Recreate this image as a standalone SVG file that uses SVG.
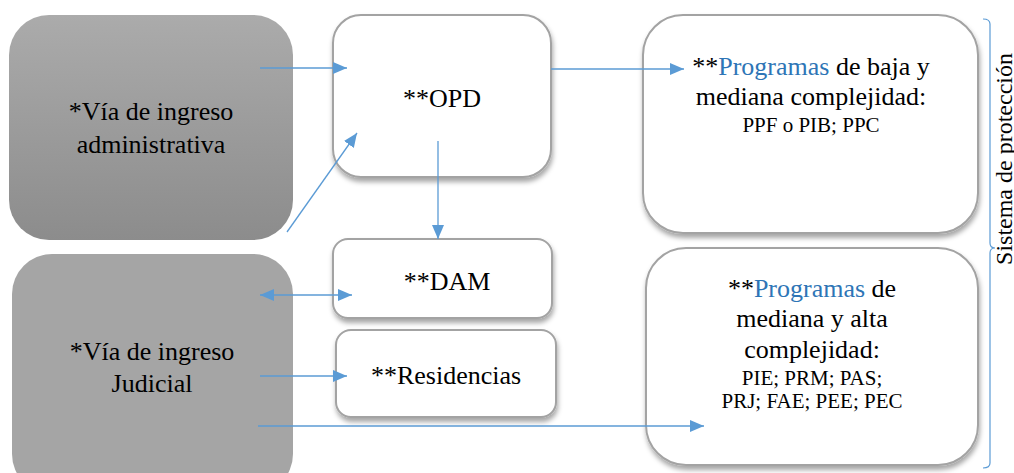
<svg xmlns="http://www.w3.org/2000/svg" width="1014" height="473" viewBox="0 0 1014 473">
<defs>
<linearGradient id="g1" x1="0" y1="0" x2="0" y2="1">
<stop offset="0" stop-color="#ababab"/>
<stop offset="1" stop-color="#8c8c8c"/>
</linearGradient>
<filter id="sh" x="-10%" y="-10%" width="125%" height="130%">
<feDropShadow dx="1" dy="4" stdDeviation="2.5" flood-color="#000" flood-opacity="0.35"/>
</filter>
<marker id="ah" markerWidth="14" markerHeight="12" refX="14" refY="6" orient="auto-start-reverse" markerUnits="userSpaceOnUse">
<path d="M0,0 L14,6 L0,12 Z" fill="#5b9bd5"/>
</marker>
<style>
.wbox{fill:#fff;stroke:#a3a3a3;stroke-width:2;filter:url(#sh)}
.c{stroke:#5b9bd5;stroke-width:1.3;fill:none;marker-end:url(#ah)}
text{font-family:"Liberation Serif","Times New Roman",serif;text-anchor:middle;fill:#000}
.b{font-size:26px}
.s{font-size:21px}
.blue{fill:#2e75b6}
</style>
</defs>
<g id="n-admin">
<rect x="9" y="15" width="284" height="225" rx="40" fill="url(#g1)"/>
<text class="b" x="151" y="120">*Vía de ingreso</text>
<text class="b" x="151" y="153">administrativa</text>
</g>
<g id="n-judicial">
<rect x="12" y="254" width="281" height="240" rx="40" fill="#a5a5a5"/>
<text class="b" x="152" y="360">*Vía de ingreso</text>
<text class="b" x="152" y="392">Judicial</text>
</g>
<g id="n-opd">
<rect x="333" y="15" width="218" height="162" rx="28" class="wbox"/>
<text class="b" x="442" y="107">**OPD</text>
</g>
<g id="n-dam">
<rect x="333" y="239" width="219" height="79" rx="15" class="wbox"/>
<text class="b" x="447" y="290">**DAM</text>
</g>
<g id="n-res">
<rect x="336" y="330" width="220" height="87" rx="15" class="wbox"/>
<text class="b" x="446" y="384">**Residencias</text>
</g>
<g id="n-prog1">
<rect x="643" y="15" width="335" height="218" rx="40" class="wbox"/>
<text class="b" x="811" y="75">**<tspan class="blue">Programas</tspan> de baja y</text>
<text class="b" x="811" y="105">mediana complejidad:</text>
<text class="s" x="811" y="132">PPF o PIB; PPC</text>
</g>
<g id="n-prog2">
<rect x="646" y="248" width="332" height="217" rx="40" class="wbox"/>
<text class="b" x="812" y="297">**<tspan class="blue">Programas</tspan> de</text>
<text class="b" x="812" y="327">mediana y alta</text>
<text class="b" x="812" y="358">complejidad:</text>
<text class="s" x="812" y="385">PIE; PRM; PAS;</text>
<text class="s" x="812" y="408">PRJ; FAE; PEE; PEC</text>
</g>
<g id="n-sistema">
<path d="M983,19 Q990,19 990,24 L990,243 Q990,248 995,248 Q990,248 990,253 L990,463 Q990,468 983,468" fill="none" stroke="#5b9bd5" stroke-width="1.2"/>
<text style="font-size:24px" transform="translate(1012,159) rotate(-90)">Sistema de protección</text>
</g>
<g id="connectors">
<line class="c" x1="260" y1="68" x2="347" y2="68"/>
<line class="c" x1="287" y1="232" x2="357" y2="133"/>
<line class="c" x1="551" y1="69" x2="684" y2="69"/>
<line class="c" x1="438" y1="141" x2="438" y2="239"/>
<line class="c" x1="260" y1="295" x2="352" y2="295" style="marker-start:url(#ah)"/>
<line class="c" x1="260" y1="376" x2="347" y2="376"/>
<line class="c" x1="258" y1="426" x2="704" y2="426"/>
</g>
</svg>
